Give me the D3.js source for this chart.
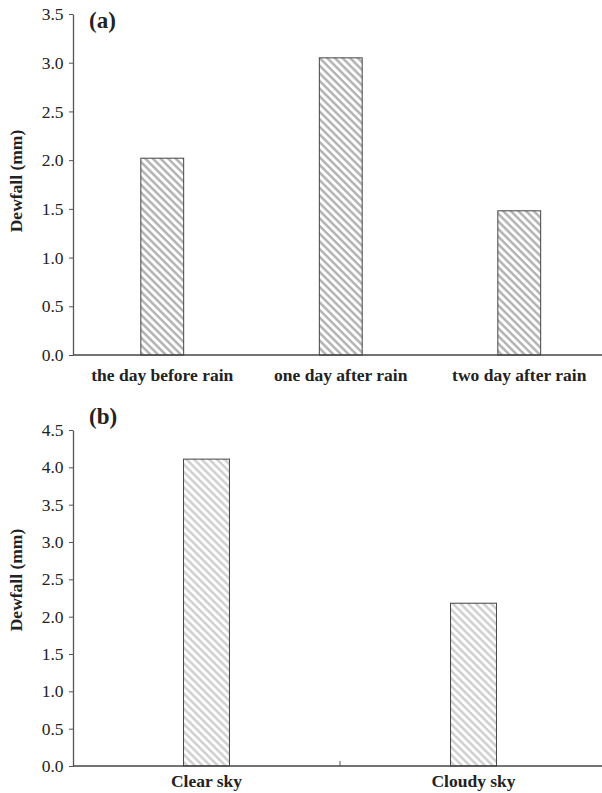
<!DOCTYPE html>
<html>
<head>
<meta charset="utf-8">
<script src="https://cdn.jsdelivr.net/npm/d3@7"></script>
<style>
  body { margin: 0; background: #fff; }
</style>
</head>
<body>
<div class="chart"></div>
<script>
// panel (a)
const rainCats = ['the day before rain', 'one day after rain', 'two day after rain'];
const rainDew = [2.02, 3.05, 1.48];
const rainTicks = [0, 0.5, 1.0, 1.5, 2.0, 2.5, 3.0, 3.5];

// panel (b)
const skyCats = ['Clear sky', 'Cloudy sky'];
const skyDew = [4.11, 2.18];
const skyTicks = [0, 0.5, 1.0, 1.5, 2.0, 2.5, 3.0, 3.5, 4.0, 4.5];

const width = 602, height = 793;
const serif = '"Liberation Serif", "Times New Roman", serif';
const fs = '17.5px';

const svg = d3.select('.chart').append('svg')
    .attr('width', width)
    .attr('height', height)
    .style('font-family', serif);

const defs = svg.append('defs');
function hatch(id, color) {
    const p = defs.append('pattern')
        .attr('id', id)
        .attr('patternUnits', 'userSpaceOnUse')
        .attr('width', 5.4).attr('height', 5.4)
        .attr('patternTransform', 'rotate(-45)');
    p.append('rect').attr('width', 5.4).attr('height', 5.4).attr('fill', '#fff');
    p.append('line')
        .attr('x1', 1.4).attr('y1', 0).attr('x2', 1.4).attr('y2', 5.4)
        .attr('stroke', color).attr('stroke-width', 2.3);
}
hatch('hatchA', '#adadad');
hatch('hatchB', '#cccccc');

function panel(cfg) {
    const g = svg.append('g');
    const x = d3.scaleBand().domain(cfg.cats).range([73, cfg.xEnd]);
    const y = d3.scaleLinear().domain([0, cfg.ymax]).range([cfg.bottom, cfg.top]);

    const yAxis = g.append('g')
        .attr('transform', 'translate(73,0)')
        .call(d3.axisLeft(y).tickValues(cfg.ticks).tickFormat(d3.format('.1f')).tickSize(4).tickSizeOuter(0));
    yAxis.attr('font-family', serif);
    yAxis.select('.domain').attr('stroke', '#555').attr('stroke-width', 1.3);
    yAxis.selectAll('.tick line').attr('stroke', '#555');
    yAxis.selectAll('.tick text')
        .attr('x', -9.5)
        .style('font-family', serif)
        .style('font-size', fs)
        .attr('fill', '#222');

    const barW = x.bandwidth() * cfg.barFrac;
    g.selectAll('rect.bar')
        .data(cfg.cats)
        .join('rect')
        .attr('class', 'bar')
        .attr('x', (d) => x(d) + (x.bandwidth() - barW) / 2)
        .attr('y', (d, i) => y(cfg.vals[i]))
        .attr('width', barW)
        .attr('height', (d, i) => cfg.bottom - y(cfg.vals[i]))
        .attr('fill', `url(#${cfg.pattern})`)
        .attr('stroke', '#444')
        .attr('stroke-width', 1);

    // x axis line
    g.append('line')
        .attr('x1', 73).attr('x2', width)
        .attr('y1', cfg.bottom).attr('y2', cfg.bottom)
        .attr('stroke', '#444').attr('stroke-width', 1.5);

    if (cfg.midTicks) {
        g.selectAll('line.mt')
            .data(cfg.cats.slice(1))
            .join('line')
            .attr('class', 'mt')
            .attr('x1', (d) => x(d)).attr('x2', (d) => x(d))
            .attr('y1', cfg.bottom).attr('y2', cfg.bottom - 5)
            .attr('stroke', '#555');
    }

    g.selectAll('text.cat')
        .data(cfg.cats)
        .join('text')
        .attr('class', 'cat')
        .attr('x', (d) => x(d) + x.bandwidth() / 2)
        .attr('y', cfg.bottom + cfg.labelGap)
        .attr('text-anchor', 'middle')
        .style('font-family', serif)
        .style('font-size', fs)
        .style('font-weight', 'bold')
        .attr('fill', '#222')
        .text((d) => d);

    g.append('text')
        .attr('transform', `translate(22,${cfg.titleY}) rotate(-90)`)
        .attr('text-anchor', 'middle')
        .style('font-family', serif)
        .style('font-size', fs)
        .style('font-weight', 'bold')
        .attr('fill', '#222')
        .text('Dewfall (mm)');

    g.append('text')
        .attr('x', 89)
        .attr('y', cfg.labelY)
        .style('font-family', serif)
        .style('font-size', '23px')
        .style('font-weight', 'bold')
        .attr('fill', '#222')
        .text(cfg.label);
}

panel({
    cats: rainCats, vals: rainDew, ticks: rainTicks, ymax: 3.5,
    top: 14, bottom: 355, xEnd: 608.5, barFrac: 0.24, labelGap: 26,
    titleY: 181, labelY: 28,
    pattern: 'hatchA', label: '(a)', midTicks: false
});

panel({
    cats: skyCats, vals: skyDew, ticks: skyTicks, ymax: 4.5,
    top: 430, bottom: 766, xEnd: 607, barFrac: 0.172, labelGap: 21,
    titleY: 580, labelY: 424,
    pattern: 'hatchB', label: '(b)', midTicks: true
});
</script>
</body>
</html>
